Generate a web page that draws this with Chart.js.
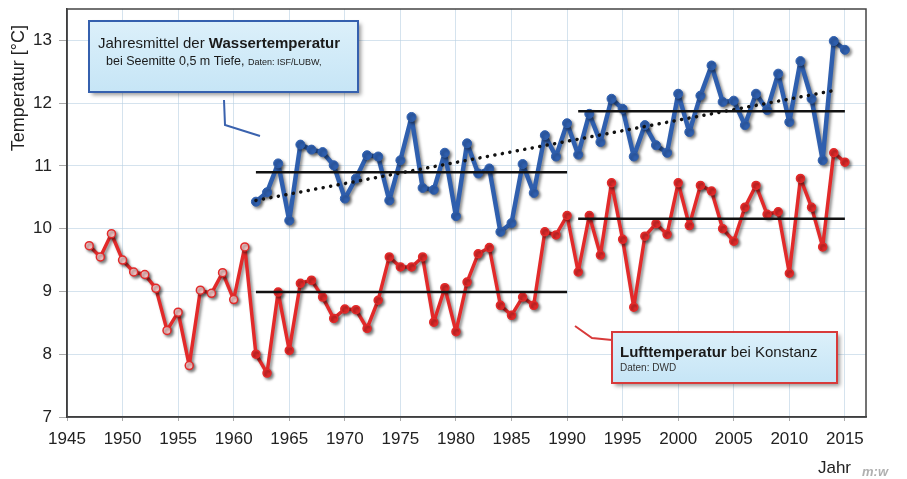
<!DOCTYPE html>
<html><head><meta charset="utf-8">
<script src="https://cdn.jsdelivr.net/npm/chart.js@4.4.0/dist/chart.umd.min.js"></script>
<style>html,body{margin:0;padding:0;background:#fff;}#wrap{width:907px;height:479px;}</style>
</head><body><div id="wrap"><canvas id="c" width="907" height="479"></canvas></div>
<script>
const waterYears = [1962,1963,1964,1965,1966,1967,1968,1969,1970,1971,1972,1973,1974,1975,1976,1977,1978,1979,1980,1981,1982,1983,1984,1985,1986,1987,1988,1989,1990,1991,1992,1993,1994,1995,1996,1997,1998,1999,2000,2001,2002,2003,2004,2005,2006,2007,2008,2009,2010,2011,2012,2013,2014,2015];
const waterTemp = [10.43,10.58,11.04,10.13,11.34,11.26,11.22,11.01,10.48,10.80,11.17,11.15,10.45,11.09,11.78,10.65,10.62,11.21,10.20,11.36,10.88,10.96,9.95,10.09,11.03,10.57,11.49,11.15,11.68,11.18,11.83,11.38,12.07,11.91,11.15,11.65,11.33,11.21,12.15,11.54,12.12,12.60,12.02,12.04,11.65,12.15,11.89,12.47,11.70,12.67,12.07,11.09,12.99,12.85];
const airYears = [1947,1948,1949,1950,1951,1952,1953,1954,1955,1956,1957,1958,1959,1960,1961,1962,1963,1964,1965,1966,1967,1968,1969,1970,1971,1972,1973,1974,1975,1976,1977,1978,1979,1980,1981,1982,1983,1984,1985,1986,1987,1988,1989,1990,1991,1992,1993,1994,1995,1996,1997,1998,1999,2000,2001,2002,2003,2004,2005,2006,2007,2008,2009,2010,2011,2012,2013,2014,2015];
const airTemp = [9.73,9.55,9.92,9.50,9.31,9.27,9.05,8.38,8.67,7.82,9.02,8.97,9.30,8.87,9.71,8.00,7.70,8.99,8.06,9.13,9.18,8.91,8.57,8.72,8.71,8.41,8.86,9.55,9.39,9.39,9.55,8.51,9.06,8.36,9.15,9.60,9.70,8.78,8.62,8.91,8.78,9.95,9.90,10.21,9.31,10.21,9.58,10.73,9.83,8.75,9.88,10.08,9.91,10.73,10.05,10.69,10.60,10.00,9.80,10.34,10.69,10.23,10.27,9.29,10.80,10.34,9.71,11.21,11.06];
// period means [startYear, endYear]
const period1 = [1962, 1990];
const period2 = [1991, 2015];
const waterMeans = [10.90, 11.87];
const airMeans = [8.99, 10.16];
const trendYears = [1962, 2014];
const trendValues = [10.45, 12.20];
const xTicks = [1945,1950,1955,1960,1965,1970,1975,1980,1985,1990,1995,2000,2005,2010,2015];
const yTicks = [7,8,9,10,11,12,13];

const FONT = '"Liberation Sans", Arial, sans-serif';
const BLUE = '#2f5fae';
const RED = '#e22a2a';

const pts = (xs, ys) => xs.map((x, i) => ({x: x, y: ys[i]}));
const seg = (p, v) => [{x: p[0], y: v}, {x: p[1], y: v}];

const blackLine = (data) => ({data, borderColor:'#111', borderWidth:2.5, pointRadius:0, tension:0, fill:false});

const shadowPlugin = {
  id: 'shadow',
  beforeDatasetDraw(chart, args) {
    if (chart.data.datasets[args.index].shadow) {
      const c = chart.ctx; c.save();
      c.shadowColor = 'rgba(0,0,0,0.45)'; c.shadowBlur = 3; c.shadowOffsetX = 2; c.shadowOffsetY = 2;
    }
  },
  afterDatasetDraw(chart, args) {
    if (chart.data.datasets[args.index].shadow) chart.ctx.restore();
  }
};

function box(c, x, y, w, h, border) {
  c.save();
  c.shadowColor = 'rgba(0,0,0,0.4)'; c.shadowBlur = 4; c.shadowOffsetX = 3; c.shadowOffsetY = 3;
  const g = c.createLinearGradient(0, y, 0, y + h);
  g.addColorStop(0, '#dcf0fa'); g.addColorStop(1, '#c6e5f6');
  c.fillStyle = g; c.fillRect(x, y, w, h);
  c.restore();
  c.strokeStyle = border; c.lineWidth = 2; c.strokeRect(x, y, w, h);
}

const decorPlugin = {
  id: 'decor',
  beforeDatasetsDraw(chart) {
    const c = chart.ctx, a = chart.chartArea;
    c.save();
    c.strokeStyle = '#444'; c.lineWidth = 1.5;
    c.strokeRect(a.left, a.top, a.right - a.left, a.bottom - a.top);
    c.restore();
  },
  afterDatasetsDraw(chart) {
    const c = chart.ctx;
    c.save();
    c.lineWidth = 2; c.strokeStyle = '#3a62ae';
    c.beginPath(); c.moveTo(224, 100); c.lineTo(225, 125); c.lineTo(260, 136); c.stroke();
    c.strokeStyle = '#d83a3a';
    c.beginPath(); c.moveTo(575, 326); c.lineTo(592, 338); c.lineTo(612, 340); c.stroke();
    box(c, 89, 21, 269, 71, '#3560ae');
    box(c, 612, 332, 225, 51, '#d83a3a');
    c.fillStyle = '#1a1a1a'; c.textBaseline = 'alphabetic'; c.textAlign = 'left';
    let x = 98;
    c.font = '15px ' + FONT; c.fillText('Jahresmittel der ', x, 48); x += c.measureText('Jahresmittel der ').width;
    c.font = 'bold 15px ' + FONT; c.fillText('Wassertemperatur', x, 48);
    x = 106;
    c.font = '12.5px ' + FONT; c.fillText('bei Seemitte 0,5 m Tiefe, ', x, 65); x += c.measureText('bei Seemitte 0,5 m Tiefe, ').width;
    c.font = '9px ' + FONT; c.fillText('Daten: ISF/LUBW,', x, 65);
    x = 620;
    c.font = 'bold 15px ' + FONT; c.fillText('Lufttemperatur', x, 357); x += c.measureText('Lufttemperatur').width;
    c.font = '15px ' + FONT; c.fillText(' bei Konstanz', x, 357);
    c.font = '10px ' + FONT; c.fillStyle = '#333'; c.fillText('Daten: DWD', 620, 371);
    c.restore();
  },
  afterDraw(chart) {
    const c = chart.ctx;
    c.save();
    c.fillStyle = '#222';
    c.font = '18px ' + FONT;
    c.textAlign = 'right'; c.textBaseline = 'middle';
    c.translate(19, 25); c.rotate(-Math.PI / 2);
    c.fillText('Temperatur [°C]', 0, 0);
    c.restore();
    c.save();
    c.fillStyle = '#222'; c.font = '17px ' + FONT; c.textAlign = 'right'; c.textBaseline = 'alphabetic';
    c.fillText('Jahr', 851, 473);
    c.fillStyle = '#b0b0b0'; c.font = 'italic bold 13px ' + FONT; c.textAlign = 'left';
    c.fillText('m:w', 862, 476);
    c.restore();
  }
};

new Chart(document.getElementById('c'), {
  type: 'line',
  data: {
    datasets: [
      Object.assign(blackLine(pts(trendYears, trendValues)), {borderWidth:3.5, borderDash:[0.1, 7.5], borderCapStyle:'round'}),
      blackLine(seg(period1, waterMeans[0])),
      blackLine(seg(period2, waterMeans[1])),
      blackLine(seg(period1, airMeans[0])),
      blackLine(seg(period2, airMeans[1])),
      {data: pts(waterYears, waterTemp), borderColor: BLUE, backgroundColor: BLUE, borderWidth: 4.5, borderJoinStyle: 'round',
       pointRadius: 4.5, pointBackgroundColor: BLUE, pointBorderColor: BLUE, pointBorderWidth: 1, tension: 0, shadow: true},
      {data: pts(airYears, airTemp), borderColor: RED, backgroundColor: RED, borderWidth: 3.5, borderJoinStyle: 'round',
       pointRadius: 4, pointBorderColor: RED, pointBorderWidth: 1.5,
       pointBackgroundColor: airYears.map(y => y < 1962 ? '#f6c6c6' : RED), tension: 0, shadow: true}
    ]
  },
  options: {
    responsive: false, animation: false, devicePixelRatio: 1,
    layout: {padding: {top: 9, right: 41, left: 0, bottom: 0}},
    plugins: {legend: {display: false}, tooltip: {enabled: false}},
    scales: {
      x: {
        type: 'linear', min: 1945, max: 2016.9,
        afterBuildTicks: s => { s.ticks = xTicks.map(v => ({value: v})); },
        afterFit: s => { s.height = 62; s.paddingLeft = 0; s.paddingRight = 0; },
        ticks: {callback: v => String(v), font: {size: 17, family: FONT}, color: '#222', padding: 8, autoSkip: false, maxRotation: 0},
        grid: {color: 'rgba(185,208,226,0.6)', lineWidth: 1, tickLength: 4, tickColor: '#aaa'},
        border: {color: '#333', width: 1.5}
      },
      y: {
        type: 'linear', min: 7, max: 13.5,
        afterBuildTicks: s => { s.ticks = yTicks.map(v => ({value: v})); },
        afterFit: s => { s.width = 67; s.paddingTop = 0; s.paddingBottom = 0; },
        ticks: {font: {size: 17, family: FONT}, color: '#222', padding: 7},
        grid: {color: 'rgba(185,208,226,0.6)', lineWidth: 1, tickLength: 8, tickColor: '#aaa'},
        border: {color: '#333', width: 1.5}
      }
    }
  },
  plugins: [shadowPlugin, decorPlugin]
});
</script></body></html>
